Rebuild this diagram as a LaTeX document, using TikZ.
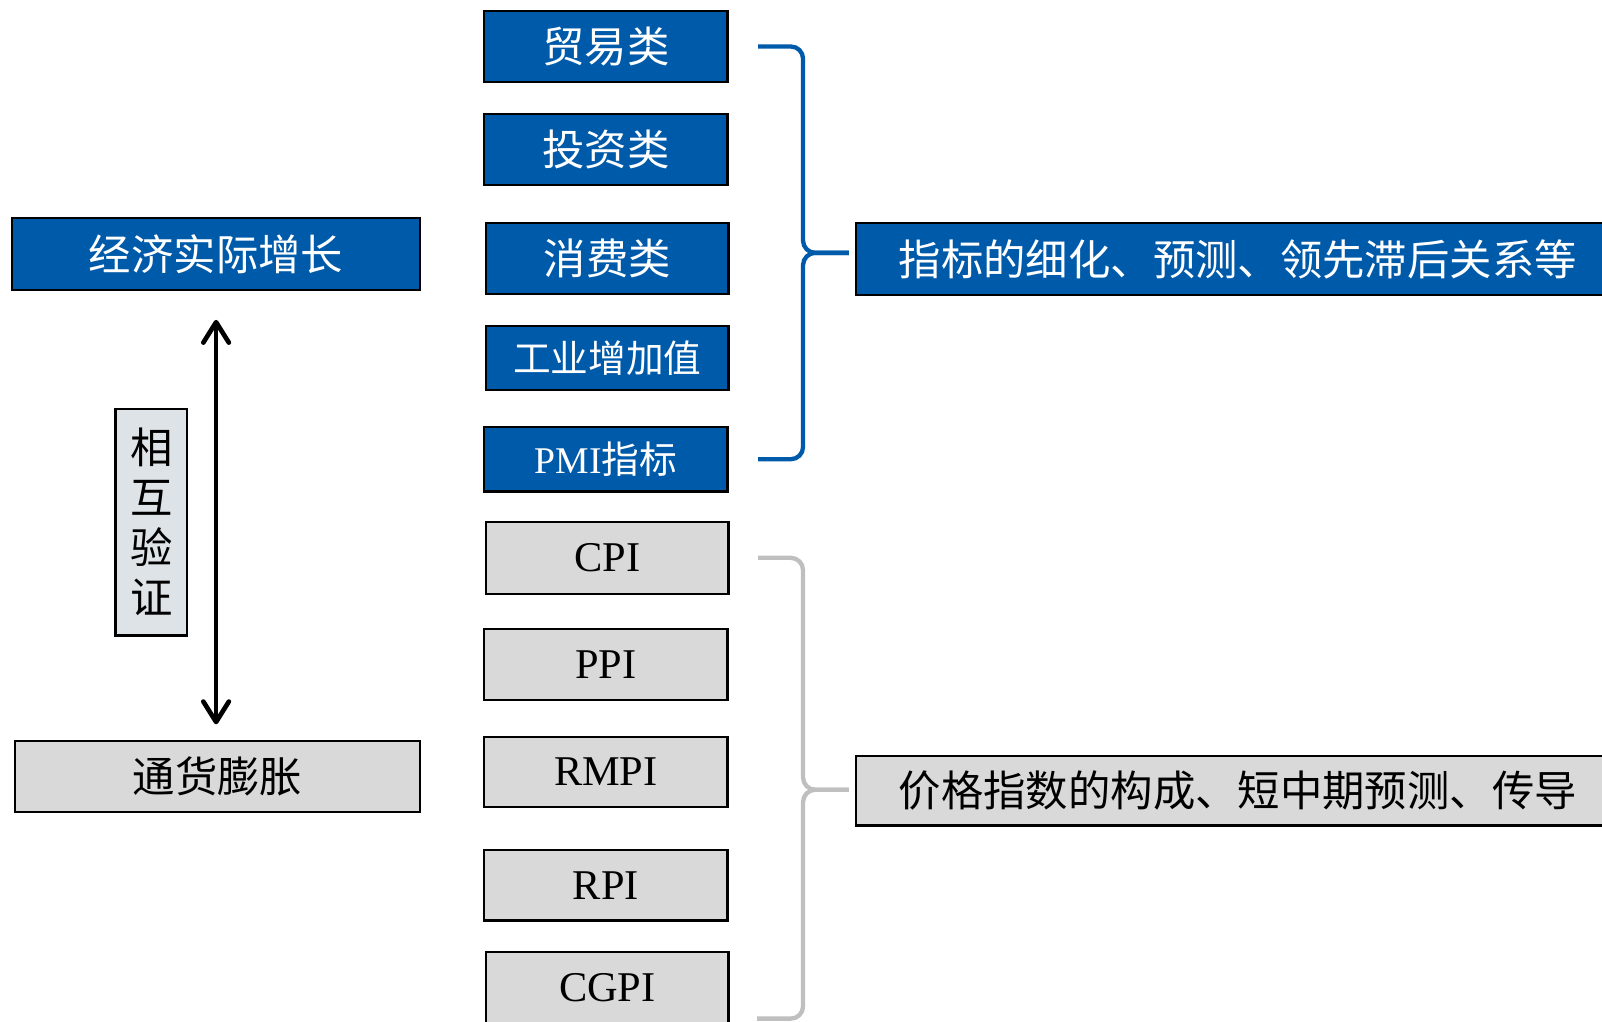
\documentclass[tikz,border=0pt]{standalone}
\usepackage{fontspec}
\setmainfont{Liberation Serif}
\newfontfamily\cjk{Noto Sans CJK SC}
\usetikzlibrary{arrows.meta}
\definecolor{boxblue}{RGB}{0,90,170}
\definecolor{boxgrey}{RGB}{217,217,217}
\definecolor{notegrey}{RGB}{222,227,231}
\definecolor{bracegrey}{RGB}{191,191,191}

\begin{document}
\begin{tikzpicture}[
    bluebox/.style={draw=black, line width=0.6pt, fill=boxblue, text=white, inner sep=0pt,
        minimum width=2.38cm, minimum height=0.69cm, font=\cjk\fontsize{11.8}{14}\selectfont},
    greybox/.style={draw=black, line width=0.6pt, fill=boxgrey, text=black, inner sep=0pt,
        minimum width=2.38cm, minimum height=0.69cm, font=\fontsize{11.8}{14}\selectfont},
    smalltext/.style={font=\cjk\fontsize{10.5}{12}\selectfont, minimum height=0.63cm},
    bluebrace/.style={draw=boxblue, line width=1.2pt, rounded corners=0.12cm},
    greybrace/.style={draw=bracegrey, line width=1.2pt, rounded corners=0.12cm},
    linkarrow/.style={{Straight Barb[round,length=0.2cm,width=0.25cm]}-{Straight Barb[round,length=0.2cm,width=0.25cm]}, line width=1.3pt}
]
    \useasboundingbox (0,0) rectangle (15.68,-10);
    \clip (0,0) rectangle (15.68,-10);

    % Left side
    \node[bluebox, minimum width=3.99cm, minimum height=0.71cm] (growth) at (2.115,-2.485) {经济实际增长};
    \node[greybox, font=\cjk\fontsize{11.8}{14}\selectfont, minimum width=3.96cm, minimum height=0.70cm] (inflation) at (2.13,-7.60) {通货膨胀};
    \node[draw=black, line width=0.6pt, fill=notegrey, inner sep=0pt, minimum width=0.70cm, minimum height=2.22cm,
        align=center, font=\cjk\fontsize{11.8}{13.9}\selectfont] (verify) at (1.48,-5.11) {相\\互\\验\\证};
    \draw[linkarrow] ([yshift=-0.28cm]growth.south) -- ([yshift=0.15cm]growth.south |- inflation.north);

    % Activity indicators
    \node[bluebox] (trade) at (5.93,-0.455) {贸易类};
    \node[bluebox] (invest) at (5.93,-1.465) {投资类};
    \node[bluebox, minimum width=2.37cm, minimum height=0.70cm] (consume) at (5.945,-2.53) {消费类};
    \node[bluebox, smalltext, minimum width=2.37cm] (industry) at (5.945,-3.505) {工业增加值};
    \node[bluebox, smalltext, font=\fontsize{10.5}{12}\selectfont] (pmi) at (5.93,-4.495) {PMI{\cjk 指标}};

    % Price indicators
    \node[greybox, minimum width=2.37cm, minimum height=0.70cm] (cpi) at (5.945,-5.46) {CPI};
    \node[greybox] (ppi) at (5.93,-6.505) {PPI};
    \node[greybox] (rmpi) at (5.93,-7.555) {RMPI};
    \node[greybox] (rpi) at (5.93,-8.665) {RPI};
    \node[greybox, minimum width=2.37cm, minimum height=0.70cm] (cgpi) at (5.945,-9.67) {CGPI};

    % Right side
    \node[bluebox, minimum width=7.47cm, minimum height=0.71cm] (detail) at (12.115,-2.535) {指标的细化、预测、领先滞后关系等};
    \node[greybox, font=\cjk\fontsize{11.8}{14}\selectfont, minimum width=7.47cm, minimum height=0.68cm] (price) at (12.115,-7.74) {价格指数的构成、短中期预测、传导};

    % Braces
    \coordinate (bmid) at (7.86,-2.475);
    \draw[bluebrace] ([xshift=0.29cm]trade.east) -| (bmid) -- ([xshift=-0.06cm]bmid -| detail.west);
    \draw[bluebrace] ([xshift=-0.06cm]bmid -| detail.west) -- (bmid) |- ([xshift=0.29cm]pmi.east);
    \coordinate (gmid) at (7.86,-7.73);
    \coordinate (gend) at (7.41,-9.97);
    \draw[greybrace] ([xshift=0.28cm]cpi.east) -| (gmid) -- ([xshift=-0.06cm]gmid -| price.west);
    \draw[greybrace] ([xshift=-0.06cm]gmid -| price.west) -- (gmid) |- (gend);
\end{tikzpicture}
\end{document}
